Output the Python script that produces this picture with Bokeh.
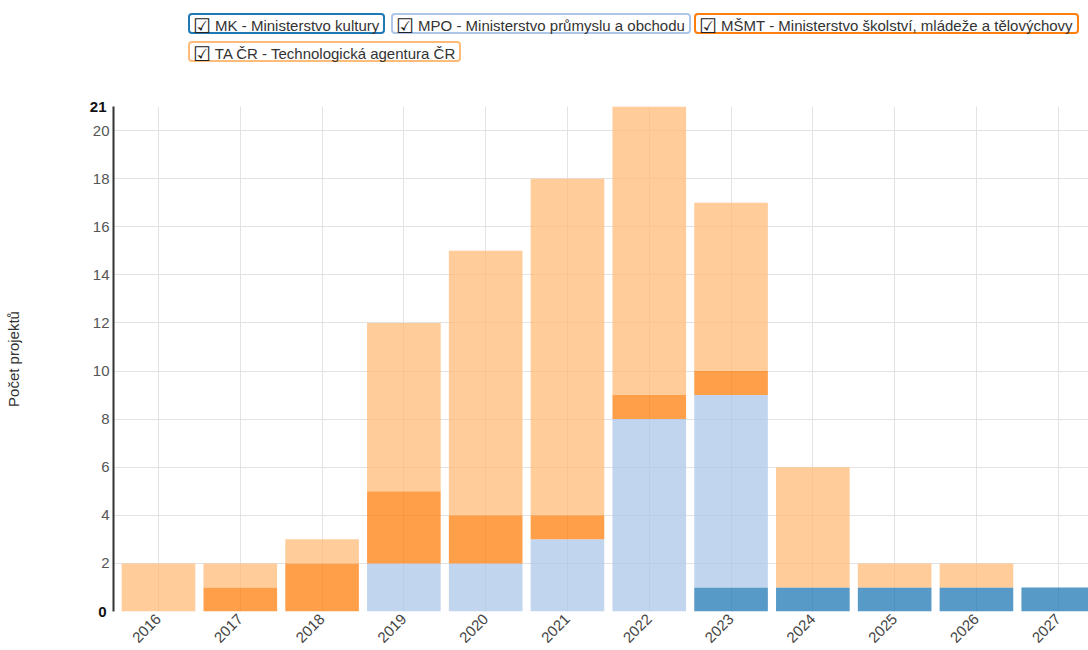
from bokeh.plotting import figure
from bokeh.models import ColumnDataSource, Range1d, FixedTicker, LinearAxis, Div
from bokeh.layouts import column
from bokeh.embed import file_html
from bokeh.resources import INLINE
import math

years = [2016, 2017, 2018, 2019, 2020, 2021, 2022, 2023, 2024, 2025, 2026, 2027]
mk = [0, 0, 0, 0, 0, 0, 0, 1, 1, 1, 1, 1]
mpo = [0, 0, 0, 2, 2, 3, 8, 8, 0, 0, 0, 0]
msmt = [0, 1, 2, 3, 2, 1, 1, 1, 0, 0, 0, 0]
tacr = [2, 1, 1, 7, 11, 14, 12, 7, 5, 1, 1, 0]

series_keys = ["MK", "MPO", "MSMT", "TACR"]
series_names = [
    "MK - Ministerstvo kultury",
    "MPO - Ministerstvo průmyslu a obchodu",
    "MŠMT - Ministerstvo školství, mládeže a tělovýchovy",
    "TA ČR - Technologická agentura ČR",
]
colors = ["#1f77b4", "#aec7e8", "#ff7f0e", "#ffbb78"]
y_ticks = [2, 4, 6, 8, 10, 12, 14, 16, 18, 20]
y_bold_ticks = [0, 21]

FONT = "Liberation Sans"
LEG_H = 70

source = ColumnDataSource(dict(x=years, MK=mk, MPO=mpo, MSMT=msmt, TACR=tacr))

p = figure(width=1088, height=650 - LEG_H, output_backend="svg", toolbar_location=None,
           x_range=Range1d(2015.45, 2027.37), y_range=Range1d(0, 21),
           min_border_top=106 - LEG_H, min_border_right=0, min_border_left=113)
p.outline_line_color = None
p.background_fill_color = "white"
p.margin = 0

p.vbar_stack(series_keys, x="x", width=0.9, source=source, color=colors,
             fill_alpha=0.75, line_color=None)

# inner y axis (regular ticks)
ya = p.yaxis[0]
ya.ticker = FixedTicker(ticks=y_ticks)
ya.axis_line_color = "#333333"
ya.axis_line_width = 2
ya.major_tick_out = 0
ya.major_tick_in = 0
ya.minor_tick_out = 0
ya.minor_tick_in = 0
ya.major_label_text_font = FONT
ya.major_label_text_font_size = "15px"
ya.major_label_text_color = "#555555"
ya.major_label_standoff = 4

# outer y axis for bold extreme ticks, pulled over the inner one
yb = LinearAxis(ticker=FixedTicker(ticks=y_bold_ticks), axis_line_color=None,
                major_tick_out=0, major_tick_in=0, minor_tick_out=0, minor_tick_in=0,
                major_label_text_font=FONT, major_label_text_font_size="15px",
                major_label_text_font_style="bold", major_label_text_color="#111111",
                major_label_standoff=-17,
                axis_label="Počet projektů", axis_label_text_font=FONT,
                axis_label_text_font_size="15px", axis_label_text_font_style="normal",
                axis_label_text_color="#333333", axis_label_standoff=65)
p.add_layout(yb, "left")

xa = p.xaxis[0]
xa.ticker = FixedTicker(ticks=years)
xa.axis_line_color = None
xa.major_tick_out = 0
xa.major_tick_in = 0
xa.minor_tick_out = 0
xa.minor_tick_in = 0
xa.major_label_orientation = math.pi / 4
xa.major_label_text_font = FONT
xa.major_label_text_font_size = "15px"
xa.major_label_text_color = "#444444"
xa.major_label_standoff = 5

p.xgrid.ticker = FixedTicker(ticks=years)
p.ygrid.ticker = FixedTicker(ticks=[0] + y_ticks)
p.xgrid.grid_line_color = "#e3e3e3"
p.ygrid.grid_line_color = "#e3e3e3"

# legend (checkbox-style boxes above the plot)
leg_pos = [(188, 13), (391, 13), (694, 13), (188, 41)]
items = []
for (lx, ty), name, col in zip(leg_pos, series_names, colors):
    items.append(
        f'<span style="position:absolute;left:{lx}px;top:{ty}px;height:21px;'
        f'line-height:21px;border:2px solid {col};border-radius:4px;padding:0 4px 0 3px;'
        f'white-space:nowrap;background:#fff;">'
        f'<span style="font-family:\'DejaVu Sans\';font-size:20px;font-weight:bold;color:#222;'
        f'vertical-align:-2px;">☑</span> {name}</span>'
    )
legend_html = (
    f'<div style="position:relative;width:1088px;height:{LEG_H}px;'
    f'font-family:\'{FONT}\';font-size:15px;color:#333;">' + "".join(items) + "</div>"
)
legend = Div(text=legend_html, width=1088, height=LEG_H, margin=0)

layout = column(legend, p, spacing=0)
open("out.html", "w").write(file_html(layout, INLINE))
